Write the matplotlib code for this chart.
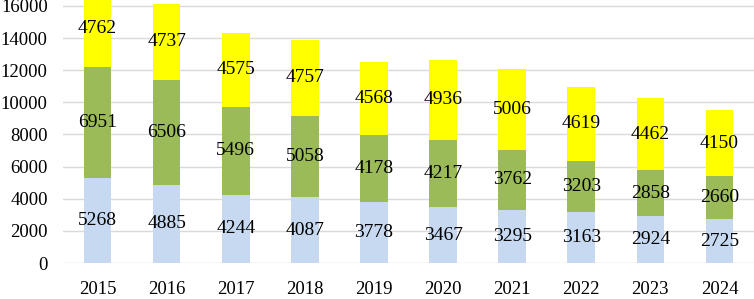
import matplotlib
matplotlib.use("Agg")
import matplotlib.pyplot as plt
import numpy as np

years = ["2015", "2016", "2017", "2018", "2019", "2020", "2021", "2022", "2023", "2024"]
bottom_vals = [5268, 4885, 4244, 4087, 3778, 3467, 3295, 3163, 2924, 2725]
middle_vals = [6951, 6506, 5496, 5058, 4178, 4217, 3762, 3203, 2858, 2660]
top_vals = [4762, 4737, 4575, 4757, 4568, 4936, 5006, 4619, 4462, 4150]

colors = ["#C6D9F1", "#9BBB59", "#FFFF00"]

plt.rcParams['font.family'] = ['Liberation Serif', 'DejaVu Serif']

fig = plt.figure(figsize=(7.54, 2.99), dpi=100)
ax = fig.add_axes([0.0836, 0.1204, 0.9164, 0.8796])

x = np.arange(len(years))
w = 0.40
b = np.zeros(len(years))
for vals, c in zip([bottom_vals, middle_vals, top_vals], colors):
    v = np.array(vals, dtype=float)
    ax.bar(x, v, width=w, bottom=b, color=c, zorder=2)
    for xi, bi, vi in zip(x, b, v):
        ax.text(xi, bi + vi / 2, f"{int(vi)}", ha="center", va="center",
                fontsize=14, color="black", zorder=3)
    b = b + v

ax.set_ylim(0, 16370)
ax.set_xlim(-0.5, len(years) - 0.5)
ax.set_yticks(np.arange(0, 16001, 2000))
ax.set_xticks(x)
ax.set_xticklabels(years)
ax.tick_params(axis='both', length=0, labelsize=13.5)
ax.tick_params(axis='x', pad=13)
ax.tick_params(axis='y', pad=11)
ax.grid(axis='y', color="#D9D9D9", linewidth=1, zorder=0)
for s in ax.spines.values():
    s.set_visible(False)

fig.savefig("out.png", dpi=100)
